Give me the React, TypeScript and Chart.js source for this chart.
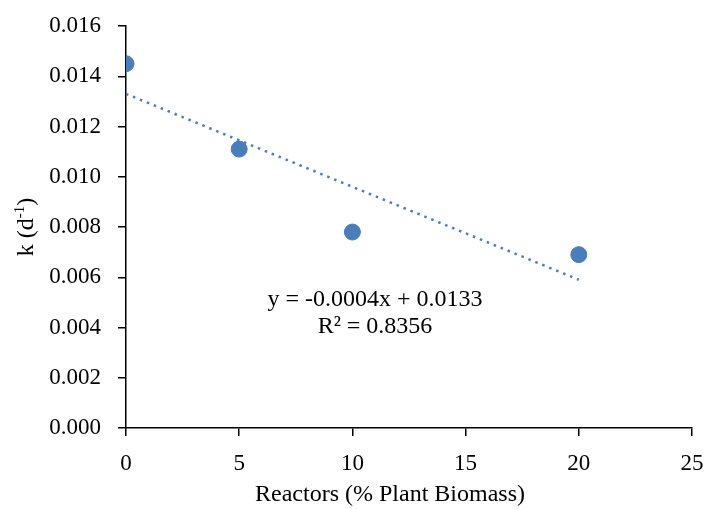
import React, { useEffect, useRef } from "react";
import { Chart, registerables } from "chart.js";

Chart.register(...registerables);

const reactorPct = [0, 5, 10, 20];
const kValues = [0.0145, 0.0111, 0.0078, 0.0069];
const trendX = [0, 20];
const trendY = [0.0133, 0.0059];
const equationLines = ["y = -0.0004x + 0.0133", "R\u00B2 = 0.8356"];
const xTitle = "Reactors (% Plant Biomass)";

const FONT = "'Liberation Serif', 'Times New Roman', serif";
const BLUE = "#4a7ebb";

const textPlugin = {
  id: "customText",
  afterDraw(chart: any) {
    const ctx = chart.ctx as CanvasRenderingContext2D;
    const area = chart.chartArea;
    ctx.save();
    ctx.fillStyle = "#000";
    // Equation
    ctx.font = `24px ${FONT}`;
    ctx.textAlign = "center";
    ctx.textBaseline = "middle";
    const cx = area.left + 249;
    ctx.fillText(equationLines[0], cx, area.top + 274);
    ctx.fillText(equationLines[1], cx, area.top + 301);
    // X title
    ctx.fillText(xTitle, area.left + 264, area.bottom + 67);
    // Y title with superscript
    const cy = (area.top + area.bottom) / 2;
    ctx.translate(27, cy);
    ctx.rotate(-Math.PI / 2);
    ctx.textBaseline = "middle";
    ctx.textAlign = "left";
    const p1 = "k (d";
    const sup = "-1";
    const p3 = ")";
    ctx.font = `24px ${FONT}`;
    const w1 = ctx.measureText(p1).width;
    const w3 = ctx.measureText(p3).width;
    ctx.font = `15px ${FONT}`;
    const w2 = ctx.measureText(sup).width;
    const total = w1 + w2 + w3;
    let x = -total / 2;
    ctx.font = `24px ${FONT}`;
    ctx.fillText(p1, x, 0);
    x += w1;
    ctx.font = `15px ${FONT}`;
    ctx.fillText(sup, x, -7);
    x += w2;
    ctx.font = `24px ${FONT}`;
    ctx.fillText(p3, x, 0);
    ctx.restore();
  },
};

export default function App() {
  const ref = useRef<HTMLCanvasElement>(null);
  useEffect(() => {
    if (!ref.current) return;
    const chart = new Chart(ref.current, {
      type: "scatter",
      data: {
        datasets: [
          {
            type: "line",
            label: "Trend",
            data: trendX.map((x, i) => ({ x, y: trendY[i] })),
            borderColor: BLUE,
            borderWidth: 2.5,
            borderDash: [2.5, 5],
            pointRadius: 0,
            fill: false,
            order: 1,
          } as any,
          {
            label: "k",
            data: reactorPct.map((x, i) => ({ x, y: kValues[i] })),
            backgroundColor: BLUE,
            borderColor: BLUE,
            pointRadius: 8,
            order: 2,
          },
        ],
      },
      options: {
        animation: false,
        responsive: false,
        maintainAspectRatio: false,
        layout: { padding: { left: 0, right: 15, top: 26, bottom: 0 } },
        plugins: {
          legend: { display: false },
          tooltip: { enabled: false },
        },
        scales: {
          x: {
            type: "linear",
            min: 0,
            max: 25,
            ticks: {
              stepSize: 5,
              color: "#000",
              font: { family: FONT, size: 23 },
              padding: 14,
            },
            grid: {
              drawOnChartArea: false,
              drawTicks: true,
              tickLength: 8,
              color: "#000",
              lineWidth: 1.5,
            },
            border: { color: "#000", width: 1.5 },
            afterFit(scale: any) {
              scale.height = 509 - 428;
              scale.paddingLeft = 0;
              scale.paddingRight = 0;
            },
          },
          y: {
            type: "linear",
            min: 0,
            max: 0.016,
            ticks: {
              stepSize: 0.002,
              color: "#000",
              font: { family: FONT, size: 23 },
              padding: 17,
              callback: (v: any) => Number(v).toFixed(3),
            },
            grid: {
              drawOnChartArea: false,
              drawTicks: true,
              tickLength: 8,
              color: "#000",
              lineWidth: 1.5,
            },
            border: { color: "#000", width: 1.5 },
            afterFit(scale: any) {
              scale.width = 126;
              scale.paddingTop = 0;
              scale.paddingBottom = 0;
            },
          },
        },
      },
      plugins: [textPlugin],
    });
    return () => chart.destroy();
  }, []);
  return (
    <div style={{ position: "fixed", left: 0, top: 0, width: 707, height: 509, background: "#fff" }}>
      <canvas ref={ref} width={707} height={509} style={{ width: 707, height: 509 }} />
    </div>
  );
}
